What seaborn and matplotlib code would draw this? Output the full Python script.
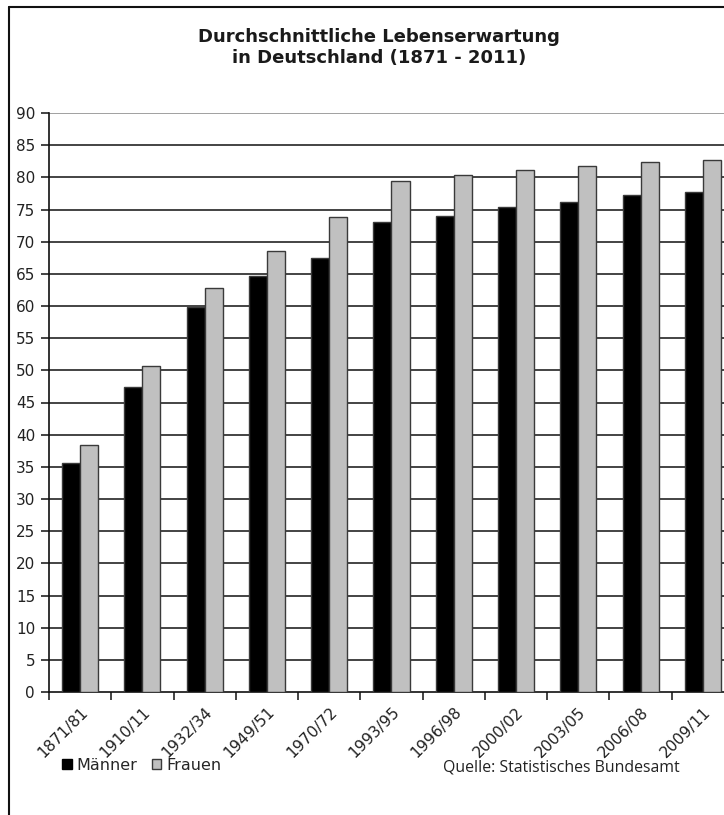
import matplotlib
matplotlib.use("Agg")
import matplotlib.pyplot as plt
import seaborn as sns
import pandas as pd
from matplotlib.lines import Line2D
from matplotlib.patches import Patch

periods = ["1871/81", "1910/11", "1932/34", "1949/51", "1970/72", "1993/95",
           "1996/98", "2000/02", "2003/05", "2006/08", "2009/11"]
maenner = [35.6, 47.4, 59.9, 64.6, 67.4, 73.0, 74.0, 75.4, 76.2, 77.2, 77.7]
frauen = [38.4, 50.7, 62.8, 68.5, 73.8, 79.5, 80.3, 81.2, 81.8, 82.4, 82.7]
series_names = ["Männer", "Frauen"]
yticks = list(range(0, 91, 5))

df = pd.DataFrame({
    "Zeitraum": periods * 2,
    "Jahre": maenner + frauen,
    "Geschlecht": [series_names[0]] * len(periods) + [series_names[1]] * len(periods),
})

sns.set_theme(style="white")
plt.rcParams["font.family"] = ["DejaVu Sans"]

W, H = 724, 815
fig = plt.figure(figsize=(W / 100, H / 100), dpi=100)
ax_left, ax_right, ax_top, ax_bottom = 49, 734, 113, 692
ax = fig.add_axes([ax_left / W, 1 - ax_bottom / H, (ax_right - ax_left) / W, (ax_bottom - ax_top) / H])

palette = {series_names[0]: "#000000", series_names[1]: "#c0c0c0"}
sns.barplot(data=df, x="Zeitraum", y="Jahre", hue="Geschlecht", palette=palette,
            width=0.58, edgecolor="#3a3a3a", linewidth=1.0, saturation=1,
            legend=False, ax=ax, zorder=3)

ax.set_ylim(0, 90)
ax.set_xlim(-0.5, len(periods) - 0.5)
ax.set_yticks(yticks)
ax.set_yticklabels([str(t) for t in yticks], fontsize=11, color="#222222")
for t in yticks[1:-1]:
    ax.axhline(t, color="#111111", lw=1.1, zorder=1)
ax.axhline(90, color="#999999", lw=1.3, zorder=1)
ax.set_xlabel("")
ax.set_ylabel("")

for s in ["top", "right"]:
    ax.spines[s].set_visible(False)
ax.spines["left"].set_color("#111111")
ax.spines["left"].set_linewidth(1.2)
ax.spines["bottom"].set_color("#111111")
ax.spines["bottom"].set_linewidth(1.2)

ax.tick_params(axis="y", direction="out", length=6, width=1.1, color="#111111", left=True, pad=4)
# category ticks between groups
ax.set_xticks([i - 0.5 for i in range(len(periods) + 1)], minor=False)
ax.set_xticklabels([])
ax.tick_params(axis="x", which="major", direction="out", length=6, width=1.1, color="#111111", bottom=True)
ax.set_xticks(range(len(periods)), minor=True)
ax.set_xticklabels(periods, minor=True, rotation=45, ha="right", va="top",
                   rotation_mode="anchor", fontsize=11.2, color="#222222")
ax.tick_params(axis="x", which="minor", length=0, pad=9)

fig.text(379 / W, 1 - 47.5 / H, "Durchschnittliche Lebenserwartung\nin Deutschland (1871 - 2011)",
         ha="center", va="center", fontsize=13, fontweight="bold", color="#1a1a1a",
         linespacing=1.15)

handles = [Patch(facecolor="#000000", edgecolor="#000000", label=series_names[0]),
           Patch(facecolor="#c0c0c0", edgecolor="#3a3a3a", label=series_names[1])]
fig.legend(handles=handles, loc="center left", bbox_to_anchor=(62 / W, 1 - 765 / H),
           ncol=2, frameon=False, fontsize=11.5, handlelength=0.6, handleheight=0.6,
           handletextpad=0.3, columnspacing=0.9, borderaxespad=0, borderpad=0)

fig.text(443 / W, 1 - 767 / H, "Quelle: Statistisches Bundesamt", ha="left", va="center",
         fontsize=11.4, family=["Open Sans", "DejaVu Sans"], color="#222222")

# outer frame (left and top edges visible)
fig.add_artist(Line2D([9 / W, 9 / W], [0, 1 - 7 / H], transform=fig.transFigure, color="#111111", lw=1.5))
fig.add_artist(Line2D([9 / W, 1], [1 - 7 / H, 1 - 7 / H], transform=fig.transFigure, color="#111111", lw=1.5))

fig.savefig("out.png", dpi=100, facecolor="white")
